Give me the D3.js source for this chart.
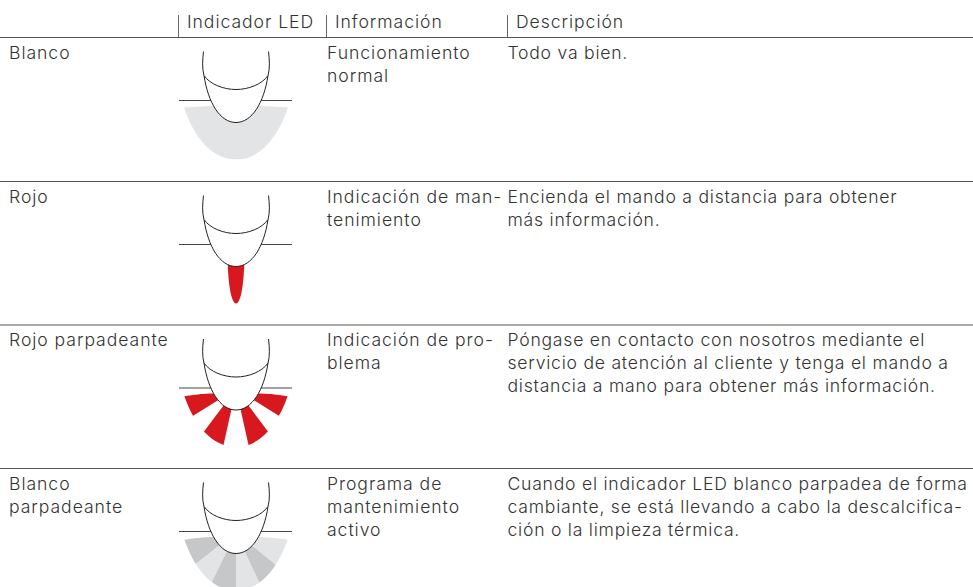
<!DOCTYPE html>
<html lang="es">
<head>
<meta charset="utf-8">
<title>Indicador LED</title>
<script src="https://d3js.org/d3.v7.min.js"></script>
<style>
  body { margin: 0; background: #fff; }
  svg { display: block; }
  text { font-family: Inter, "Noto Sans", sans-serif; font-size: 17.6px; font-weight: 300; letter-spacing: 0.95px; fill: #333; }
  text.desc { letter-spacing: 0.76px; }
</style>
</head>
<body>
<div id="vis"></div>
<script>
const columnHeaders = ["Indicador LED", "Información", "Descripción"];
const colours = ["Blanco", "Rojo", "Rojo parpadeante", "Blanco\nparpadeante"];
const infos = [
  "Funcionamiento\nnormal",
  "Indicación de man-\ntenimiento",
  "Indicación de pro-\nblema",
  "Programa de\nmantenimiento\nactivo"
];
const descriptions = [
  "Todo va bien.",
  "Encienda el mando a distancia para obtener\nmás información.",
  "Póngase en contacto con nosotros mediante el\nservicio de atención al cliente y tenga el mando a\ndistancia a mano para obtener más información.",
  "Cuando el indicador LED blanco parpadea de forma\ncambiante, se está llevando a cabo la descalcifica-\nción o la limpieza térmica."
];
// light segments per row, angles in degrees from straight down
const glowWhole = [[-90, 90, "#e3e4e5"]];
const glowRed = [[-82, -58, "#d7181f"], [-37, -12.6, "#d7181f"], [12.6, 37, "#d7181f"], [58, 82, "#d7181f"]];
const glowMixed = [
  [-82, -52, "#c6c7c9"], [-52, -26, "#e3e4e5"], [-26, 0, "#c6c7c9"],
  [0, 25, "#e3e4e5"], [25, 51, "#c6c7c9"], [51, 82, "#e3e4e5"]
];
const rowGlow = [glowWhole, null, glowRed, glowMixed];

const width = 973, height = 587;
const lineHeight = 23;

const svg = d3.select("#vis").append("svg").attr("width", width).attr("height", height);

const rowY = d3.scaleOrdinal().domain(d3.range(4)).range([37.5, 181.5, 325, 468.5]);
const headX = 236;
const deg = d3.scaleLinear().domain([0, 180]).range([0, Math.PI]);

function glowOutline() {
  const p = d3.path();
  p.moveTo(-52, 70);
  p.bezierCurveTo(-42, 100, -24, 122, 0, 122);
  p.bezierCurveTo(24, 122, 42, 100, 52, 70);
  p.quadraticCurveTo(0, 66, -52, 70);
  p.closePath();
  return p.toString();
}

svg.append("clipPath").attr("id", "glow-clip").append("path").attr("d", glowOutline());

// header
const headerX = [187, 335, 516];
const tickX = [178.5, 326.5, 507.5];
svg.selectAll(".head-tick").data(tickX).enter().append("line")
  .attr("x1", d => d).attr("x2", d => d).attr("y1", 15).attr("y2", 37)
  .attr("stroke", "#666").attr("stroke-width", 1);
svg.selectAll(".head-text").data(columnHeaders).enter().append("text")
  .attr("x", (d, i) => headerX[i]).attr("y", 28).text(d => d);

// row rules
svg.selectAll(".rule").data(d3.range(4)).enter().append("line")
  .attr("x1", 0).attr("x2", width)
  .attr("y1", d => rowY(d)).attr("y2", d => rowY(d))
  .attr("stroke", "#555").attr("stroke-width", 1);

function addLines(values, x, cls) {
  values.forEach((v, i) => {
    const t = svg.append("text").attr("class", cls).attr("y", rowY(i) + 21);
    v.split("\n").forEach((s, j) => {
      t.append("tspan").attr("x", x).attr("dy", j ? lineHeight : 0).text(s);
    });
  });
}
addLines(colours, 9, "colour");
addLines(infos, 327, "info");
addLines(descriptions, 507.5, "desc");

// LED icons
const wedge = d3.arc().innerRadius(0).outerRadius(120);
d3.range(4).forEach(i => {
  const g = svg.append("g").attr("transform", `translate(${headX},${rowY(i)})`);
  g.append("line").attr("x1", -57).attr("x2", 56).attr("y1", 63).attr("y2", 63)
    .attr("stroke", "#444").attr("stroke-width", 1);

  const glow = g.append("g").attr("clip-path", "url(#glow-clip)");
  if (rowGlow[i]) {
    glow.selectAll("path").data(rowGlow[i]).enter().append("path")
      .attr("transform", "translate(0,64)")
      .attr("fill", d => d[2])
      .attr("d", d => wedge({ startAngle: Math.PI - deg(d[1]), endAngle: Math.PI - deg(d[0]) }));
  } else {
    const t = d3.path();
    t.moveTo(-8.3, 80);
    t.bezierCurveTo(-8, 100, -5, 122, 0, 122);
    t.bezierCurveTo(5, 122, 8, 100, 8.3, 80);
    t.closePath();
    g.append("path").attr("d", t.toString()).attr("fill", "#d7181f");
  }

  // tip first, so the cuff of the tube sits over it
  const tip = d3.path();
  tip.moveTo(-32, 38);
  tip.bezierCurveTo(-28, 65, -16, 85, 0, 85);
  tip.bezierCurveTo(16, 85, 28, 65, 32, 38);
  g.append("path").attr("d", tip.toString()).attr("fill", "#fff").attr("stroke", "#222").attr("stroke-width", 1);

  const tube = d3.path();
  tube.moveTo(-32.5, 14);
  tube.bezierCurveTo(-33.5, 22, -34, 31, -32, 38);
  tube.bezierCurveTo(-26, 47, -12, 52, 0, 52);
  tube.bezierCurveTo(12, 52, 26, 47, 32, 38);
  tube.bezierCurveTo(34, 31, 33.5, 22, 32.5, 14);
  g.append("path").attr("d", tube.toString()).attr("fill", "#fff").attr("stroke", "#222").attr("stroke-width", 1);
});
</script>
</body>
</html>
